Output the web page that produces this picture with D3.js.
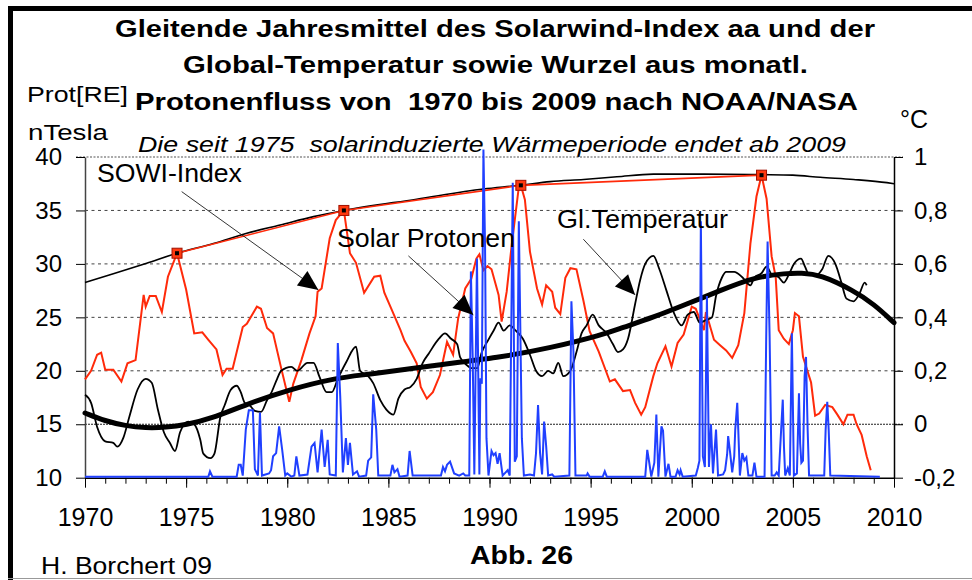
<!DOCTYPE html>
<html lang="de">
<head>
<meta charset="UTF-8">
<title>Solarwind-Index, Global-Temperatur und Protonenfluss</title>
<script src="https://cdn.jsdelivr.net/npm/d3@7"></script>
<style>
    body { margin: 0; background: #fff; }
    svg { display: block; }
    text { font-family: "Liberation Sans", Arial, sans-serif; fill: #000; white-space: pre; }
    .title { font-size: 23px; font-weight: bold; }
    .unit { font-size: 22px; }
    .sub { font-size: 22px; font-style: italic; }
    .note { font-size: 25px; }
    .grid { stroke: #444; stroke-width: 1; stroke-dasharray: 3, 3.5; }
    .sowi { fill: none; stroke: #ff2a0a; stroke-width: 2; }
    .proton { fill: none; stroke: #2040ff; stroke-width: 2; }
    .temp { fill: none; stroke: #000; stroke-width: 1.8; }
    .trend { fill: none; stroke: #000; stroke-width: 5; stroke-linecap: round; }
    .envelope { fill: none; stroke: #000; stroke-width: 1.6; }
    .peakline { fill: none; stroke: #ff2a0a; stroke-width: 1.6; }
</style>
</head>
<body>
<script>
    const width = 972;
    const height = 580;

    // axis ticks
    const leftTicks = [10, 15, 20, 25, 30, 35, 40];
    const rightTicks = [-0.2, 0, 0.2, 0.4, 0.6, 0.8, 1];
    const xTicks = [1970, 1975, 1980, 1985, 1990, 1995, 2000, 2005, 2010];

    // SOWI-Index aa, running annual mean [year, nT]
    const sowiIndex = [
        [1970.0,19.2],[1970.3,20.0],[1970.6,21.5],[1970.8,21.7],[1971.0,20.1],[1971.4,20.1],[1971.8,19.0],
        [1972.1,20.7],[1972.5,21.0],[1972.9,27.1],[1973.0,26.0],[1973.2,27.0],[1973.5,27.0],[1973.8,25.5],
        [1974.1,28.8],[1974.55,31.0],[1975.0,27.6],[1975.4,23.5],[1975.8,23.6],[1976.1,22.9],[1976.5,22.0],
        [1976.8,19.6],[1977.0,20.2],[1977.3,20.2],[1977.8,24.1],[1978.0,24.4],[1978.5,26.0],[1978.7,25.8],
        [1979.0,24.0],[1979.3,23.5],[1979.7,20.25],[1980.1,17.1],[1980.3,18.8],[1980.7,21.0],[1981.1,23.5],
        [1981.4,25.1],[1981.5,27.4],[1981.7,27.7],[1982.1,32.4],[1982.4,34.1],[1982.8,35.0],[1983.1,31.0],
        [1983.4,30.1],[1983.8,27.3],[1984.3,28.8],[1984.6,28.9],[1984.8,27.3],[1985.1,26.0],[1985.6,23.8],
        [1985.8,22.8],[1986.1,21.8],[1986.4,20.7],[1986.6,18.5],[1986.9,17.4],[1987.2,18.0],[1987.55,19.6],
        [1987.9,22.7],[1988.2,21.5],[1988.45,24.9],[1988.8,27.7],[1989.1,28.6],[1989.35,30.5],[1989.5,30.9],
        [1989.7,29.4],[1989.9,29.8],[1990.1,29.5],[1990.45,27.1],[1990.6,24.6],[1990.85,27.4],[1991.1,31.8],
        [1991.45,37.2],[1991.55,37.35],[1991.75,36.0],[1992.0,31.15],[1992.35,27.7],[1992.6,26.2],[1992.8,28.0],
        [1993.1,27.4],[1993.25,25.9],[1993.5,25.3],[1993.75,28.7],[1994.0,29.6],[1994.3,29.5],[1994.65,26.5],
        [1994.95,23.7],[1995.4,21.8],[1995.95,19.0],[1996.2,19.2],[1996.6,18.1],[1996.95,18.2],[1997.2,17.0],
        [1997.5,15.9],[1997.7,16.6],[1998.1,19.5],[1998.3,20.7],[1998.7,22.3],[1999.0,20.4],[1999.3,22.6],
        [1999.6,23.4],[2000.0,26.0],[2000.2,25.8],[2000.6,23.8],[2000.7,25.5],[2001.1,22.9],[2001.4,22.4],
        [2001.7,21.9],[2002.0,21.2],[2002.3,22.4],[2002.6,25.4],[2002.9,31.9],[2003.2,36.3],[2003.45,38.3],
        [2003.7,36.1],[2003.95,30.7],[2004.15,28.8],[2004.3,23.8],[2004.55,23.0],[2004.8,22.5],[2005.0,23.8],
        [2005.1,25.4],[2005.3,25.1],[2005.5,21.3],[2005.9,18.9],[2006.1,15.8],[2006.3,16.0],[2006.6,16.8],
        [2006.95,16.6],[2007.2,15.9],[2007.5,15.0],[2007.7,15.9],[2008.0,15.9],[2008.15,15.0],[2008.4,14.0],
        [2008.65,12.0],[2008.85,10.7]
    ];

    // SOWI cycle maxima, joined by the red line [year, nT]
    const sowiPeaks = [[1974.55,31.0],[1982.8,35.0],[1991.55,37.35],[2003.45,38.3]];

    // upper envelope of the SOWI-Index [year, nT]
    const sowiEnvelope = [
        [1970.0,28.25],[1971.4,29.07],[1973.05,30.07],[1974.55,31.0],[1976.35,31.9],[1978.0,32.87],
        [1979.65,33.64],[1981.3,34.42],[1982.8,35.0],[1986.4,36.05],[1989.7,37.0],[1991.5,37.35],
        [1993.0,37.7],[1994.65,37.9],[1996.3,38.15],[1998.1,38.4],[2000.6,38.4],[2003.45,38.35],
        [2005.0,38.3],[2006.35,38.1],[2008.0,37.9],[2009.65,37.6],[2010.0,37.5]
    ];

    // global temperature anomaly, running annual mean [year, °C]
    const temperature = [
        [1970.0,0.11],[1970.3,0.08],[1970.6,-0.01],[1971.0,-0.064],[1971.4,-0.07],[1971.6,-0.084],[1971.9,-0.05],
        [1972.2,0.03],[1972.6,0.13],[1973.0,0.17],[1973.3,0.155],[1973.6,0.056],[1973.9,-0.03],[1974.2,-0.07],
        [1974.45,-0.10],[1974.7,-0.03],[1975.1,0.01],[1975.4,0.0],[1975.7,-0.058],[1975.85,-0.11],[1976.2,-0.127],
        [1976.4,-0.11],[1976.7,0.03],[1976.9,0.07],[1977.2,0.128],[1977.5,0.144],[1977.7,0.12],[1977.9,0.08],
        [1978.15,0.07],[1978.4,0.05],[1978.7,0.046],[1979.0,0.09],[1979.2,0.116],[1979.5,0.17],[1979.7,0.2],
        [1980.2,0.215],[1980.5,0.2],[1981.0,0.23],[1981.3,0.23],[1981.6,0.176],[1981.95,0.12],[1982.2,0.12],
        [1982.5,0.17],[1982.9,0.23],[1983.4,0.29],[1983.6,0.20],[1984.0,0.18],[1984.25,0.154],[1984.6,0.09],
        [1984.9,0.055],[1985.25,0.036],[1985.5,0.097],[1985.8,0.13],[1986.1,0.14],[1986.4,0.17],[1986.7,0.23],
        [1987.0,0.265],[1987.5,0.32],[1987.8,0.34],[1988.1,0.32],[1988.4,0.30],[1988.55,0.25],[1988.9,0.22],
        [1989.1,0.21],[1989.4,0.21],[1989.6,0.266],[1989.9,0.31],[1990.2,0.35],[1990.45,0.38],[1990.7,0.35],
        [1991.0,0.37],[1991.3,0.35],[1991.65,0.32],[1992.0,0.26],[1992.3,0.2],[1992.6,0.18],[1992.9,0.2],
        [1993.15,0.19],[1993.4,0.23],[1993.65,0.18],[1994.0,0.2],[1994.3,0.27],[1994.55,0.34],[1994.8,0.37],
        [1995.1,0.41],[1995.4,0.37],[1995.8,0.34],[1996.1,0.30],[1996.35,0.27],[1996.6,0.28],[1996.85,0.32],
        [1997.2,0.45],[1997.45,0.54],[1997.7,0.60],[1998.1,0.63],[1998.4,0.58],[1998.75,0.50],[1999.1,0.42],
        [1999.5,0.37],[1999.8,0.41],[2000.1,0.42],[2000.4,0.38],[2000.7,0.39],[2001.0,0.40],[2001.2,0.48],
        [2001.5,0.55],[2001.7,0.57],[2002.1,0.57],[2002.5,0.55],[2002.9,0.52],[2003.1,0.55],[2003.45,0.565],
        [2003.7,0.59],[2003.95,0.56],[2004.3,0.55],[2004.55,0.53],[2004.8,0.56],[2005.05,0.60],[2005.4,0.62],
        [2005.6,0.59],[2005.8,0.56],[2006.2,0.56],[2006.45,0.58],[2006.75,0.63],[2007.1,0.60],[2007.4,0.53],
        [2007.65,0.47],[2008.0,0.46],[2008.3,0.49],[2008.55,0.53],[2008.65,0.52]
    ];

    // polynomial trend of the temperature [year, °C]
    const temperatureTrend = [
        [1970,0.042],[1971,0.012],[1972,-0.006],[1973,-0.014],[1974,-0.012],[1975,-0.002],[1976.2,0.02],
        [1978,0.075],[1980,0.128],[1982.5,0.175],[1983.9,0.185],[1987.2,0.22],[1990.5,0.25],[1993,0.285],
        [1995.6,0.335],[1996.5,0.36],[1998.1,0.40],[1999.75,0.45],[2001.4,0.50],[2003.05,0.55],[2004.7,0.565],
        [2005.4,0.566],[2006.35,0.56],[2008,0.50],[2009,0.45],[2010,0.38]
    ];

    // square root of monthly proton flux [year, left axis]
    const protonFlux = [
        [1970.0,10.1],[1976.1,10.1],[1976.18,10.6],[1976.3,10.1],[1977.5,10.1],[1977.6,11.2],[1977.7,11.2],
        [1977.8,10.2],[1977.95,14.5],[1978.1,16.3],[1978.3,16.3],[1978.4,10.8],[1978.55,10.2],[1978.65,16.1],
        [1978.75,10.2],[1979.1,10.4],[1979.2,10.7],[1979.3,12.0],[1979.45,12.3],[1979.6,14.8],[1979.75,12.6],
        [1979.9,10.2],[1980.0,10.4],[1980.2,10.1],[1980.35,10.2],[1980.45,12.0],[1980.6,10.2],[1981.0,10.3],
        [1981.2,12.9],[1981.35,13.25],[1981.5,10.5],[1981.7,14.5],[1981.85,11.0],[1982.0,13.55],[1982.1,10.3],
        [1982.4,10.2],[1982.5,22.6],[1982.62,17.6],[1982.75,10.5],[1982.9,13.7],[1983.0,11.2],[1983.1,13.25],
        [1983.25,10.3],[1983.45,10.6],[1983.55,10.1],[1983.9,10.2],[1984.0,11.6],[1984.15,11.9],[1984.25,17.8],
        [1984.4,14.5],[1984.5,10.2],[1985.1,10.2],[1985.2,11.2],[1985.3,10.5],[1985.45,10.8],[1985.55,10.1],
        [1985.95,10.2],[1986.05,12.5],[1986.2,10.2],[1987.6,10.2],[1987.7,11.0],[1987.8,10.6],[1987.9,11.2],
        [1988.05,11.5],[1988.25,10.4],[1988.5,10.2],[1988.7,10.4],[1988.8,10.2],[1989.0,10.2],[1989.08,29.3],
        [1989.17,21.2],[1989.25,10.3],[1989.38,30.5],[1989.5,10.3],[1989.55,19.3],[1989.62,18.8],[1989.7,40.7],
        [1989.78,31.8],[1989.85,13.7],[1989.95,10.2],[1990.1,12.5],[1990.2,12.1],[1990.3,12.3],[1990.4,11.3],
        [1990.5,12.3],[1990.65,10.2],[1990.8,10.5],[1990.9,10.7],[1991.0,10.2],[1991.15,37.6],[1991.25,11.5],
        [1991.35,12.0],[1991.45,34.0],[1991.6,13.7],[1991.7,10.2],[1992.0,10.3],[1992.2,10.2],[1992.3,12.3],
        [1992.4,16.8],[1992.5,12.3],[1992.6,10.3],[1992.7,15.25],[1992.8,13.0],[1992.9,10.2],[1993.1,10.3],
        [1993.2,10.1],[1993.95,10.2],[1994.05,26.5],[1994.15,21.8],[1994.25,10.2],[1994.8,10.2],[1994.85,10.4],
        [1994.95,10.1],[1995.6,10.1],[1995.7,10.6],[1995.8,10.1],[1997.7,10.1],[1997.8,12.6],[1997.9,11.4],
        [1998.0,10.1],[1998.15,11.4],[1998.25,15.9],[1998.35,10.1],[1998.5,14.8],[1998.58,14.4],[1998.7,10.1],
        [1998.85,11.3],[1998.95,10.1],[1999.2,10.1],[1999.3,10.7],[1999.4,10.3],[1999.45,10.7],[1999.55,10.1],
        [2000.2,10.2],[2000.3,10.9],[2000.38,11.6],[2000.45,34.0],[2000.55,12.0],[2000.65,11.0],[2000.75,27.0],
        [2000.85,11.0],[2000.95,15.0],[2001.05,10.4],[2001.2,14.5],[2001.3,10.2],[2001.55,10.3],[2001.65,10.7],
        [2001.75,12.2],[2001.8,13.9],[2001.9,12.3],[2002.0,10.5],[2002.1,12.0],[2002.15,14.5],[2002.25,17.0],
        [2002.3,14.5],[2002.38,10.2],[2002.5,12.3],[2002.6,11.6],[2002.7,11.9],[2002.8,10.2],[2003.0,10.2],
        [2003.1,11.4],[2003.2,10.1],[2003.6,10.1],[2003.68,22.9],[2003.75,32.1],[2003.85,23.2],[2003.95,10.2],
        [2004.1,10.2],[2004.2,10.5],[2004.3,10.2],[2004.42,14.5],[2004.5,17.3],[2004.56,12.9],[2004.62,10.2],
        [2004.75,10.9],[2004.85,10.2],[2004.95,23.5],[2005.05,10.2],[2005.2,10.4],[2005.3,17.9],[2005.36,13.2],
        [2005.42,11.4],[2005.5,11.6],[2005.58,19.5],[2005.65,21.3],[2005.73,14.5],[2005.8,10.2],[2006.55,10.2],
        [2006.62,14.5],[2006.7,17.1],[2006.77,14.5],[2006.85,10.2],[2009.3,10.1]
    ];

    const x = d3.scaleLinear().domain([1970, 2010]).range([85, 894]);
    const yL = d3.scaleLinear().domain([10, 40]).range([477.7, 157]);
    const yR = d3.scaleLinear().domain([-0.2, 1]).range([477.7, 157]);

    const svg = d3.select("body").append("svg").attr("width", width).attr("height", height);

    // frame
    svg.append("rect").attr("x", 8).attr("y", 6).attr("width", 5).attr("height", height - 6).attr("fill", "#000");
    svg.append("rect").attr("x", 8).attr("y", 6).attr("width", width - 8).attr("height", 5).attr("fill", "#000");
    svg.append("line").attr("x1", 8).attr("x2", width).attr("y1", 578.5).attr("y2", 578.5)
        .attr("stroke", "#999").attr("stroke-width", 1);

    // titles
    const titles = [
        {t: "Gleitende Jahresmittel des Solarwind-Index aa und der", x: 115, y: 37, len: 760},
        {t: "Global-Temperatur sowie Wurzel aus monatl.", x: 183, y: 73, len: 625},
        {t: "Protonenfluss von  1970 bis 2009 nach NOAA/NASA", x: 135, y: 110, len: 723}
    ];
    svg.selectAll("text.title").data(titles).enter().append("text")
        .attr("class", "title")
        .attr("x", d => d.x).attr("y", d => d.y)
        .attr("textLength", d => d.len).attr("lengthAdjust", "spacingAndGlyphs")
        .text(d => d.t);

    svg.append("text").attr("class", "unit").attr("x", 27).attr("y", 102)
        .attr("textLength", 101).attr("lengthAdjust", "spacingAndGlyphs").text("Prot[RE]");
    svg.append("text").attr("class", "unit").attr("x", 28).attr("y", 140)
        .attr("textLength", 80).attr("lengthAdjust", "spacingAndGlyphs").text("nTesla");
    svg.append("text").attr("class", "note").attr("x", 900).attr("y", 128).text("°C");
    svg.append("text").attr("class", "sub").attr("x", 138).attr("y", 151.5)
        .attr("textLength", 708).attr("lengthAdjust", "spacingAndGlyphs")
        .text("Die seit 1975  solarinduzierte Wärmeperiode endet ab 2009");

    // grid
    const grid = svg.append("g");
    grid.selectAll("line").data(leftTicks.filter(d => d > 15 && d < 40)).enter().append("line")
        .attr("class", "grid")
        .attr("x1", x(1970)).attr("x2", x(2010) + 9)
        .attr("y1", d => yL(d)).attr("y2", d => yL(d));
    grid.append("line")
        .attr("x1", x(1970)).attr("x2", x(2010) + 9).attr("y1", yL(15)).attr("y2", yL(15))
        .attr("stroke", "#222").attr("stroke-width", 1.2).attr("stroke-dasharray", "2,1");
    grid.append("line")
        .attr("x1", x(1970) - 9).attr("x2", x(2010) + 9).attr("y1", yL(40)).attr("y2", yL(40))
        .attr("stroke", "#555").attr("stroke-width", 1.2).attr("stroke-dasharray", "2,1.5");

    // axes
    const styleAxis = (g, size) => {
        g.attr("font-family", null).attr("font-size", null);
        g.selectAll("text").style("font-size", size + "px").attr("fill", "#000");
        g.selectAll("line").attr("stroke", "#000");
    };

    svg.append("g")
        .attr("transform", `translate(${x(1970)},0)`)
        .call(d3.axisLeft(yL).tickValues(leftTicks).tickSize(9).tickSizeOuter(0).tickPadding(14)
            .tickFormat(d3.format("d")))
        .call(g => styleAxis(g, 24))
        .call(g => g.select(".domain").attr("stroke", "#444").attr("stroke-width", 1.5));

    const fmtR = d => (d === 0 || d === 1) ? String(d) : d3.format(".1f")(d).replace(".", ",").replace("\u2212", "-");
    svg.append("g")
        .attr("transform", `translate(${x(2010)},0)`)
        .call(d3.axisRight(yR).tickValues(rightTicks).tickSize(9).tickSizeOuter(0).tickPadding(11)
            .tickFormat(fmtR))
        .call(g => styleAxis(g, 24))
        .call(g => g.select(".domain").attr("stroke", "#000").attr("stroke-width", 1.5));

    svg.append("g")
        .attr("transform", `translate(0,${yL(10)})`)
        .call(d3.axisBottom(x).tickValues(d3.range(1970, 2011)).tickSize(6).tickSizeOuter(0).tickFormat(""))
        .call(g => g.selectAll("line").attr("stroke", "#000"))
        .call(g => g.select(".domain").attr("stroke", "#000").attr("stroke-width", 1.5));

    svg.append("g")
        .attr("transform", `translate(0,${yL(10)})`)
        .call(d3.axisBottom(x).tickValues(xTicks).tickSize(10).tickSizeOuter(0).tickPadding(21)
            .tickFormat(d3.format("d")))
        .call(g => styleAxis(g, 25))
        .call(g => g.select(".domain").remove());

    // series
    const lineL = d3.line().x(d => x(d[0])).y(d => yL(d[1]));
    const lineR = d3.line().x(d => x(d[0])).y(d => yR(d[1]));

    svg.append("path").datum(sowiEnvelope).attr("class", "envelope")
        .attr("d", lineL.curve(d3.curveMonotoneX));
    svg.append("path").datum(sowiPeaks).attr("class", "peakline")
        .attr("d", lineL.curve(d3.curveLinear));
    svg.append("path").datum(sowiIndex).attr("class", "sowi").attr("d", lineL);

    svg.append("path").datum(temperature).attr("class", "temp")
        .attr("d", lineR.curve(d3.curveMonotoneX));
    svg.append("path").datum(temperatureTrend).attr("class", "trend")
        .attr("d", lineR.curve(d3.curveBasis));

    svg.append("path").datum(protonFlux).attr("class", "proton")
        .attr("d", lineL.curve(d3.curveLinear));

    // peak markers
    const mk = svg.append("g").selectAll("g").data(sowiPeaks).enter().append("g")
        .attr("transform", d => `translate(${x(d[0])},${yL(d[1])})`);
    mk.append("rect").attr("x", -5).attr("y", -5).attr("width", 10).attr("height", 10)
        .attr("fill", "#ff3a10").attr("stroke", "#a01000").attr("stroke-width", 1);
    mk.append("rect").attr("x", -2).attr("y", -2).attr("width", 4).attr("height", 4).attr("fill", "#000");

    // labels with arrows
    const notes = [
        {t: "SOWI-Index", at: [1970.59, 37.69], len: 145, from: [1974.78, 36.76], to: [1981.54, 27.57]},
        {t: "Solar Protonen", at: [1982.46, 31.61], len: 178, from: [1985.99, 30.75], to: [1989.2, 25.23]},
        {t: "Gl.Temperatur", at: [1993.34, 33.33], len: 171, from: [1994.64, 32.31], to: [1997.2, 27.1]}
    ];
    const ng = svg.append("g").selectAll("g").data(notes).enter().append("g");
    ng.append("text").attr("class", "note")
        .attr("x", d => x(d.at[0])).attr("y", d => yL(d.at[1]))
        .attr("textLength", d => d.len).attr("lengthAdjust", "spacingAndGlyphs")
        .text(d => d.t);
    ng.append("line")
        .attr("x1", d => x(d.from[0])).attr("y1", d => yL(d.from[1]))
        .attr("x2", d => x(d.to[0])).attr("y2", d => yL(d.to[1]))
        .attr("stroke", "#000").attr("stroke-width", 0.8);
    ng.append("path").attr("fill", "#000").attr("d", d => {
        const x0 = x(d.from[0]), y0 = yL(d.from[1]), x1 = x(d.to[0]), y1 = yL(d.to[1]);
        const l = Math.hypot(x1 - x0, y1 - y0), ux = (x1 - x0) / l, uy = (y1 - y0) / l;
        const hl = 20, hw = 9;
        const bx = x1 - ux * hl, by = y1 - uy * hl;
        return `M${x1},${y1}L${bx - uy * hw},${by + ux * hw}L${bx + uy * hw},${by - ux * hw}Z`;
    });

    // footer
    svg.append("text").attr("x", 41).attr("y", 574).style("font-size", "24px")
        .attr("textLength", 171).attr("lengthAdjust", "spacingAndGlyphs").text("H. Borchert 09");
    svg.append("text").attr("x", 470).attr("y", 564).style("font-size", "26px").style("font-weight", "bold")
        .attr("textLength", 103).attr("lengthAdjust", "spacingAndGlyphs").text("Abb. 26");
</script>
</body>
</html>
